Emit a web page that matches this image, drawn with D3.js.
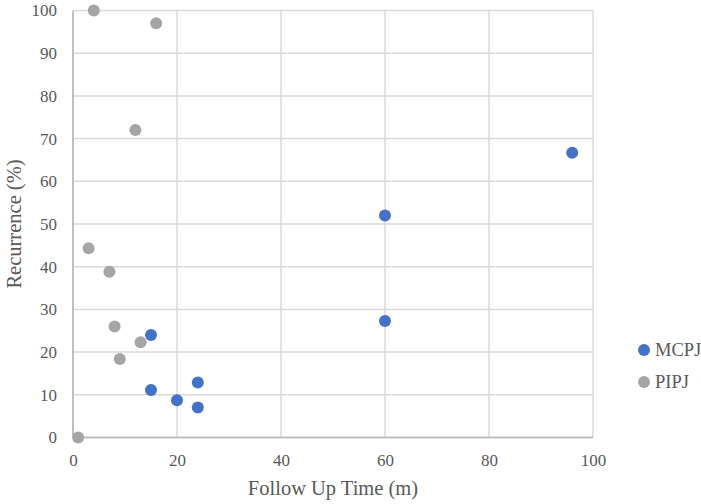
<!DOCTYPE html>
<html><head><meta charset="utf-8">
<script src="https://cdn.jsdelivr.net/npm/d3@7"></script>
<style>body{margin:0;background:#fff}svg{display:block}</style>
</head><body>
<script>
const seriesNames = ["MCPJ", "PIPJ"];
const seriesColors = ["#4472C4", "#A5A5A5"];
const mcpjX = [15, 15, 20, 24, 24, 60, 60, 96];
const mcpjY = [24, 11.1, 8.7, 12.9, 7, 52, 27.3, 66.7];
const pipjX = [4, 16, 12, 3, 7, 8, 13, 9, 1];
const pipjY = [100, 97, 72, 44.3, 38.8, 26, 22.3, 18.4, 0];
const xTicks = [0, 20, 40, 60, 80, 100];
const yTicks = [0, 10, 20, 30, 40, 50, 60, 70, 80, 90, 100];

const W = 701, H = 504;
const svg = d3.select("body").append("svg").attr("width", W).attr("height", H);
const font = "'Liberation Serif', 'DejaVu Serif', serif";
const x = d3.scaleLinear().domain([0, 100]).range([73, 593]);
const y = d3.scaleLinear().domain([0, 100]).range([437.5, 10.5]);

// gridlines
svg.append("g").selectAll("line.h").data(yTicks.filter(d => d > 0)).join("line")
  .attr("x1", x(0)).attr("x2", x(100)).attr("y1", d => y(d)).attr("y2", d => y(d))
  .attr("stroke", "#d9d9d9").attr("stroke-width", 1.5);
svg.append("g").selectAll("line.v").data(xTicks.filter(d => d > 0)).join("line")
  .attr("y1", y(0)).attr("y2", y(100)).attr("x1", d => x(d)).attr("x2", d => x(d))
  .attr("stroke", "#d9d9d9").attr("stroke-width", 1.5);
// axes lines
svg.append("line").attr("x1", x(0)).attr("x2", x(100)).attr("y1", y(0)).attr("y2", y(0))
  .attr("stroke", "#bfbfbf").attr("stroke-width", 2);
svg.append("line").attr("x1", x(0)).attr("x2", x(0)).attr("y1", y(0)).attr("y2", y(100))
  .attr("stroke", "#bfbfbf").attr("stroke-width", 2);

// tick labels
const xAxis = d3.axisBottom(x).tickValues(xTicks).tickSize(0).tickPadding(0);
const gx = svg.append("g").attr("transform", `translate(0,${y(0)})`).call(xAxis);
gx.select(".domain").remove();
gx.selectAll("text").attr("dy", null).attr("y", 28).attr("font-family", font).attr("font-size", 17).attr("fill", "#595959");
const yAxis = d3.axisLeft(y).tickValues(yTicks).tickSize(0).tickPadding(0);
const gy = svg.append("g").attr("transform", `translate(${x(0)},0)`).call(yAxis);
gy.select(".domain").remove();
gy.selectAll("text").attr("x", -16).attr("dy", "0.32em").attr("font-family", font).attr("font-size", 17).attr("fill", "#595959");

// axis titles
svg.append("text").attr("x", 333).attr("y", 495).attr("text-anchor", "middle")
  .attr("font-family", font).attr("font-size", 20.5).attr("fill", "#595959").text("Follow Up Time (m)");
svg.append("text").attr("transform", `translate(21,224) rotate(-90)`).attr("text-anchor", "middle")
  .attr("font-family", font).attr("font-size", 20.5).attr("fill", "#595959").text("Recurrence (%)");

// points
const sets = [d3.zip(mcpjX, mcpjY), d3.zip(pipjX, pipjY)];
sets.forEach((pts, i) => {
  svg.append("g").selectAll("circle").data(pts).join("circle")
    .attr("cx", d => x(d[0])).attr("cy", d => y(d[1])).attr("r", 6)
    .attr("fill", seriesColors[i]);
});

// legend
const leg = svg.append("g");
seriesNames.forEach((n, i) => {
  const ly = 350 + i * 32;
  leg.append("circle").attr("cx", 644).attr("cy", ly).attr("r", 6).attr("fill", seriesColors[i]);
  leg.append("text").attr("x", 655).attr("y", ly).attr("dy", "0.35em")
    .attr("font-family", font).attr("font-size", 18.5).attr("fill", "#595959").text(n);
});
</script>
</body></html>
